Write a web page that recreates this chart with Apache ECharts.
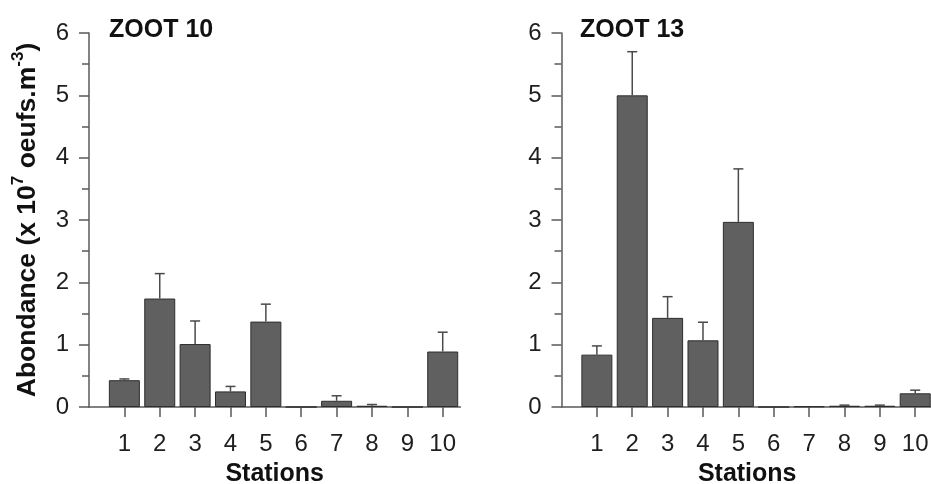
<!DOCTYPE html>
<html>
<head>
<meta charset="utf-8">
<script src="https://cdn.jsdelivr.net/npm/echarts@6/dist/echarts.min.js"></script>
<style>
  html, body { margin: 0; padding: 0; background: #ffffff; }
  #chart { width: 931px; height: 484px; }
</style>
</head>
<body>
<div id="chart"></div>
<script>
// Egg abundance per station for two cruises (mean and upper standard error)
const stations = [1, 2, 3, 4, 5, 6, 7, 8, 9, 10];
const yTicks = [0, 1, 2, 3, 4, 5, 6];

const zoot10Mean = [0.43, 1.74, 1.01, 0.25, 1.37, 0.0, 0.10, 0.02, 0.0, 0.89];
const zoot10Err  = [0.02, 0.40, 0.37, 0.08, 0.28, 0.0, 0.08, 0.02, 0.0, 0.31];

const zoot13Mean = [0.84, 5.00, 1.43, 1.07, 2.97, 0.0, 0.01, 0.02, 0.02, 0.22];
const zoot13Err  = [0.14, 0.70, 0.34, 0.29, 0.85, 0.0, 0.005, 0.01, 0.01, 0.05];

const panelTitles = ['ZOOT 10', 'ZOOT 13'];

const FONT = '"Liberation Sans", Arial, sans-serif';
const AXIS_COLOR = '#5a5a5a';
const TEXT_COLOR = '#1e1e1e';
const BAR_FILL = '#606060';
const BAR_EDGE = '#2e2e2e';
const ERR_COLOR = '#4a4a4a';

const chart = echarts.init(document.getElementById('chart'), null, { renderer: 'canvas' });

function xAxisFor(gridIndex) {
  return {
    type: 'value',
    gridIndex: gridIndex,
    min: 0,
    max: 10.5,
    interval: 1,
    name: 'Stations',
    nameLocation: 'middle',
    nameGap: 55,
    nameTextStyle: { fontFamily: FONT, fontWeight: 'bold', fontSize: 25, color: '#111' },
    axisLine: { show: true, onZero: false, lineStyle: { color: AXIS_COLOR, width: 1.5 } },
    axisTick: { show: true, length: 10, customValues: stations, lineStyle: { color: AXIS_COLOR, width: 1.5 } },
    axisLabel: { customValues: stations, margin: 25, fontFamily: FONT, fontSize: 24, color: TEXT_COLOR },
    splitLine: { show: false }
  };
}

function yAxisFor(gridIndex, withName) {
  const axis = {
    type: 'value',
    gridIndex: gridIndex,
    min: yTicks[0],
    max: yTicks[yTicks.length - 1],
    interval: 1,
    axisLine: { show: true, lineStyle: { color: AXIS_COLOR, width: 1.5 } },
    axisTick: { show: true, length: 10, lineStyle: { color: AXIS_COLOR, width: 1.5 } },
    minorTick: { show: true, splitNumber: 2, length: 7, lineStyle: { color: AXIS_COLOR, width: 1.5 } },
    axisLabel: { margin: 20, fontFamily: FONT, fontSize: 24, color: TEXT_COLOR },
    splitLine: { show: false },
    minorSplitLine: { show: false }
  };
  if (withName) {
    axis.name = '{n|Abondance (x 10}{s|7}{n| oeufs.m}{s|-3}{n|)}';
    axis.nameLocation = 'middle';
    axis.nameGap = 43;
    axis.nameTextStyle = {
      rich: {
        n: { fontFamily: FONT, fontWeight: 'bold', fontSize: 26.5, color: '#111', lineHeight: 36 },
        s: { fontFamily: FONT, fontWeight: 'bold', fontSize: 17, color: '#111', lineHeight: 18, verticalAlign: 'top' }
      }
    };
  }
  return axis;
}

function barSeries(idx, values) {
  return {
    type: 'bar',
    xAxisIndex: idx,
    yAxisIndex: idx,
    barWidth: 31,
    data: stations.map((s, i) => [s, values[i]]),
    itemStyle: { color: BAR_FILL, borderColor: BAR_EDGE, borderWidth: 1 },
    silent: true,
    animation: false
  };
}

function errorSeries(idx, means, errs) {
  return {
    type: 'custom',
    xAxisIndex: idx,
    yAxisIndex: idx,
    z: 5,
    silent: true,
    animation: false,
    data: stations.map((s, i) => [s, means[i], means[i] + errs[i]]),
    renderItem: function (params, api) {
      const x = api.value(0);
      const lo = api.coord([x, api.value(1)]);
      const hi = api.coord([x, api.value(2)]);
      if (lo[1] - hi[1] < 0.5) return null;
      const cap = 5;
      return {
        type: 'group',
        children: [
          { type: 'line', shape: { x1: lo[0], y1: lo[1], x2: hi[0], y2: hi[1] },
            style: { stroke: ERR_COLOR, lineWidth: 1.5 } },
          { type: 'line', shape: { x1: hi[0] - cap, y1: hi[1], x2: hi[0] + cap, y2: hi[1] },
            style: { stroke: ERR_COLOR, lineWidth: 1.5 } }
        ]
      };
    }
  };
}

const titleStyle = { fontFamily: FONT, fontWeight: 'bold', fontSize: 25, color: '#111' };

const option = {
  backgroundColor: '#ffffff',
  animation: false,
  title: [
    { text: panelTitles[0], left: 109, top: 18, textStyle: titleStyle, padding: 0 },
    { text: panelTitles[1], left: 580, top: 18, textStyle: titleStyle, padding: 0 }
  ],
  grid: [
    { left: 89, top: 33, width: 371.4, height: 374, containLabel: false, outerBoundsMode: 'none' },
    { left: 561.5, top: 33, width: 371.4, height: 374, containLabel: false, outerBoundsMode: 'none' }
  ],
  xAxis: [xAxisFor(0), xAxisFor(1)],
  yAxis: [yAxisFor(0, true), yAxisFor(1, false)],
  series: [
    barSeries(0, zoot10Mean),
    errorSeries(0, zoot10Mean, zoot10Err),
    barSeries(1, zoot13Mean),
    errorSeries(1, zoot13Mean, zoot13Err)
  ]
};

chart.setOption(option);
</script>
</body>
</html>
